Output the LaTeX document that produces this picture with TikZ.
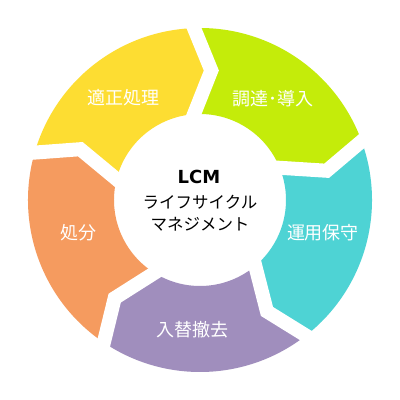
\documentclass[tikz,border=0pt]{standalone}
\usepackage{fontspec}
\newfontfamily\jp{Noto Sans CJK JP}
\newfontfamily\lat{DejaVu Sans}
\usetikzlibrary{calc}
\definecolor{cyellow}{RGB}{253,221,50}
\definecolor{cgreen}{RGB}{196,236,10}
\definecolor{ccyan}{RGB}{78,211,212}
\definecolor{cpurple}{RGB}{160,142,189}
\definecolor{corange}{RGB}{245,155,95}
\tikzset{
  seglabel/.style={text=white,font=\jp\fontsize{18}{20}\selectfont,inner sep=0pt},
  centerlabel/.style={text=black,font=\jp\fontsize{16.5}{18}\selectfont,inner sep=0pt},
  gapline/.style={white,line width=14pt,line join=miter}
}
\begin{document}
\begin{tikzpicture}[x=1pt,y=1pt]
\useasboundingbox (0,0) rectangle (400,400);
\fill[white] (0,0) rectangle (400,400);
\def\Ro{172}\def\Ri{86}\def\Rm{130}\def\dl{7}\def\ep{2}
\begin{scope}[shift={(200,200)}]
\foreach \col/\ta in {cyellow/164,cgreen/92,ccyan/20,cpurple/-52,corange/-124}{
  \pgfmathsetmacro\tb{\ta-72}
  \pgfmathsetmacro\tbtip{\tb-\dl}
  \pgfmathsetmacro\tatip{\ta-\dl}
  \pgfmathsetmacro\tbin{\tb+\ep}
  \pgfmathsetmacro\tain{\ta+\ep}
  \fill[\col] (\ta:\Ro) arc[start angle=\ta,end angle=\tb,radius=\Ro]
    -- (\tbtip:\Rm) -- (\tbin:\Ri)
    arc[start angle=\tbin,end angle=\tain,radius=\Ri]
    -- (\tatip:\Rm) -- cycle;
}
\foreach \ta in {164,92,20,-52,-124}{
  \pgfmathsetmacro\tatip{\ta-\dl}
  \pgfmathsetmacro\tain{\ta+\ep}
  \coordinate (bo) at (\ta:\Ro);
  \coordinate (bt) at (\tatip:\Rm);
  \coordinate (bi) at (\tain:\Ri);
  \draw[gapline] ($(bt)!1.3!(bo)$) -- (bt) -- ($(bt)!1.3!(bi)$);
}
\end{scope}
\node[seglabel] (n1) at (124,302) {適正処理};
\node[seglabel] (n2) at (273,301) {調達･導入};
\node[seglabel] (n3) at (323,167) {運用保守};
\node[seglabel] (n4) at (193,70) {入替撤去};
\node[seglabel] (n5) at (78,167) {処分};
\node[centerlabel,font=\lat\bfseries\fontsize{18}{20}\selectfont] (c1) at (199,223) {LCM};
\node[centerlabel] (c2) at (200,198) {ライフサイクル};
\node[centerlabel] (c3) at (200,176) {マネジメント};
\end{tikzpicture}
\end{document}
